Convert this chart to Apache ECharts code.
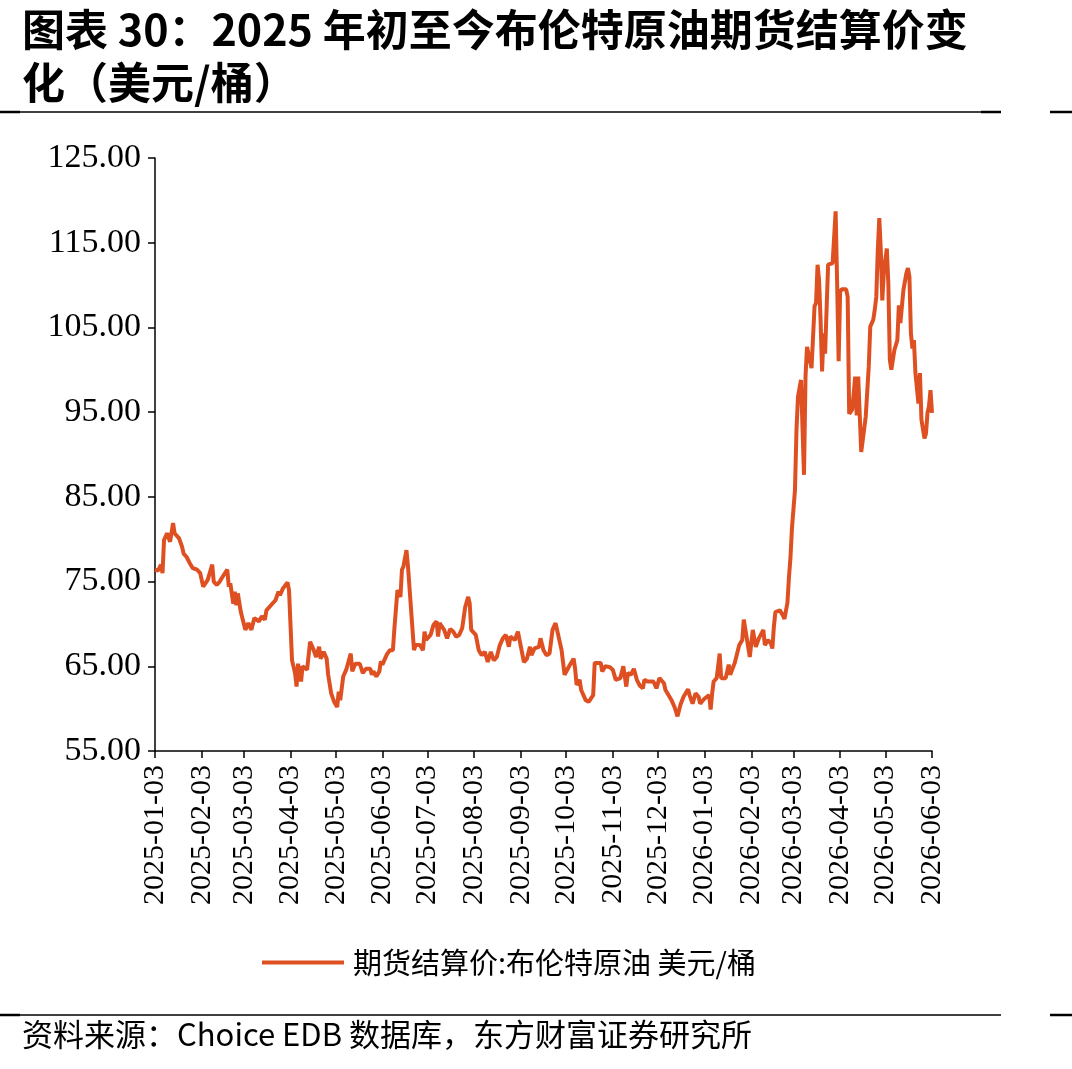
<!DOCTYPE html>
<html>
<head>
<meta charset="utf-8">
<script src="https://cdn.jsdelivr.net/npm/echarts@6/dist/echarts.min.js"></script>
<style>
  html, body { margin: 0; padding: 0; background: #fff; }
  #brentChart { width: 1072px; height: 1069px; }
</style>
</head>
<body>
<div id="brentChart"></div>
<script>
// 期货结算价:布伦特原油（美元/桶），读图估计
const dates2025 = [
  '2025-01-03','2025-01-05','2025-01-06','2025-01-07','2025-01-08','2025-01-09','2025-01-11','2025-01-12','2025-01-13','2025-01-15',
  '2025-01-16','2025-01-19','2025-01-21','2025-01-22','2025-01-24','2025-01-26','2025-01-28','2025-01-31','2025-02-02','2025-02-04',
  '2025-02-05','2025-02-07','2025-02-10','2025-02-11','2025-02-13','2025-02-15','2025-02-17','2025-02-20','2025-02-21','2025-02-22',
  '2025-02-24','2025-02-25','2025-02-26','2025-02-27','2025-03-01','2025-03-04','2025-03-06','2025-03-08','2025-03-10','2025-03-13',
  '2025-03-15','2025-03-17','2025-03-18','2025-03-21','2025-03-24','2025-03-26','2025-03-27','2025-03-29','2025-04-01','2025-04-02',
  '2025-04-04','2025-04-06','2025-04-07','2025-04-08','2025-04-10','2025-04-11','2025-04-14','2025-04-16','2025-04-18','2025-04-20',
  '2025-04-22','2025-04-23','2025-04-25','2025-04-27','2025-04-28','2025-04-30','2025-05-02','2025-05-04','2025-05-05','2025-05-06',
  '2025-05-08','2025-05-10','2025-05-13','2025-05-14','2025-05-16','2025-05-19','2025-05-21','2025-05-23','2025-05-26','2025-05-27',
  '2025-05-28','2025-05-30','2025-06-01','2025-06-02','2025-06-03','2025-06-06','2025-06-08','2025-06-10','2025-06-11','2025-06-12',
  '2025-06-13','2025-06-14','2025-06-15','2025-06-16','2025-06-17','2025-06-19','2025-06-20','2025-06-24','2025-06-25','2025-06-28',
  '2025-06-30','2025-07-01','2025-07-02','2025-07-05','2025-07-07','2025-07-09','2025-07-10','2025-07-11','2025-07-14','2025-07-16',
  '2025-07-18','2025-07-20','2025-07-22','2025-07-24','2025-07-26','2025-07-28','2025-07-30','2025-07-31','2025-08-01','2025-08-04',
  '2025-08-06','2025-08-08','2025-08-10','2025-08-12','2025-08-14','2025-08-16','2025-08-18','2025-08-20','2025-08-22','2025-08-24',
  '2025-08-26','2025-08-27','2025-08-30','2025-09-01','2025-09-05','2025-09-07','2025-09-09','2025-09-10','2025-09-12','2025-09-15',
  '2025-09-16','2025-09-18','2025-09-20','2025-09-22','2025-09-24','2025-09-26','2025-09-27','2025-09-30','2025-10-02','2025-10-05',
  '2025-10-08','2025-10-09','2025-10-10','2025-10-12','2025-10-13','2025-10-16','2025-10-18','2025-10-21','2025-10-22','2025-10-26',
  '2025-10-27','2025-10-29','2025-11-01','2025-11-03','2025-11-05','2025-11-08','2025-11-10','2025-11-12','2025-11-13','2025-11-15',
  '2025-11-17','2025-11-19','2025-11-21','2025-11-23','2025-11-24','2025-11-26','2025-11-30','2025-12-02','2025-12-04','2025-12-07',
  '2025-12-08','2025-12-10','2025-12-12','2025-12-14','2025-12-16','2025-12-18','2025-12-20','2025-12-23','2025-12-24','2025-12-26',
  '2025-12-28','2025-12-30','2025-12-31'
];
const prices2025 = [
  76.4, 76.3, 76.4, 77.0, 76.0, 79.9, 80.7, 80.9, 79.7, 81.9,
  80.7, 80.1, 79.1, 78.3, 77.9, 77.2, 76.6, 76.4, 76.0, 74.4,
  74.6, 75.2, 77.0, 75.0, 74.6, 75.0, 75.6, 76.4, 74.4, 74.8,
  72.4, 73.8, 72.2, 73.6, 71.4, 69.3, 70.1, 69.3, 70.7, 70.3,
  70.9, 70.5, 71.6, 72.2, 72.8, 73.8, 73.4, 74.2, 74.9, 74.0,
  65.7, 64.2, 62.6, 65.3, 63.2, 65.0, 64.6, 67.9, 67.1, 66.1,
  67.3, 65.9, 66.7, 65.9, 64.0, 61.8, 60.8, 60.2, 62.0, 61.0,
  63.8, 64.6, 66.5, 64.4, 65.3, 65.3, 64.2, 64.7, 64.7, 64.0,
  64.4, 63.8, 64.4, 65.6, 65.2, 66.4, 66.9, 66.9, 69.5, 69.7,
  74.0, 74.2, 73.2, 76.4, 76.8, 78.7, 76.8, 66.9, 67.5, 67.5,
  66.9, 69.1, 68.1, 68.7, 69.9, 70.3, 68.5, 70.1, 69.3, 68.3,
  69.4, 69.1, 68.5, 68.7, 69.5, 72.0, 73.2, 72.4, 69.3, 68.7,
  66.9, 66.3, 66.7, 65.5, 66.7, 65.7, 66.1, 67.5, 68.3, 68.7,
  67.3, 68.5, 68.1, 69.1, 65.5, 65.9, 67.3, 66.3, 67.1, 67.3,
  68.3, 66.9, 66.3, 66.5, 69.3, 70.1, 69.3, 66.9, 64.0, 65.0,
  65.9, 64.7, 62.8, 63.4, 62.2, 61.0, 60.8, 61.6, 65.4, 65.4,
  64.4, 65.0, 64.9, 64.6, 63.4, 63.6, 65.0, 62.6, 64.2, 64.0,
  64.7, 63.4, 62.7, 62.4, 63.4, 63.2, 63.2, 62.4, 63.6, 63.0,
  62.2, 61.6, 61.0, 60.2, 59.1, 60.5, 61.4, 62.3, 61.6, 60.6,
  61.8, 61.4, 60.6
];
const dates2026 = [
  '2026-01-03','2026-01-06','2026-01-07','2026-01-08','2026-01-09','2026-01-11','2026-01-13','2026-01-14','2026-01-17','2026-01-19',
  '2026-01-20','2026-01-23','2026-01-24','2026-01-26','2026-01-28','2026-01-29','2026-01-30','2026-02-02','2026-02-04','2026-02-06',
  '2026-02-08','2026-02-11','2026-02-12','2026-02-14','2026-02-16','2026-02-17','2026-02-18','2026-02-19','2026-02-22','2026-02-24',
  '2026-02-25','2026-02-27','2026-02-28','2026-03-01','2026-03-02','2026-03-03','2026-03-04','2026-03-05','2026-03-06','2026-03-08',
  '2026-03-09','2026-03-10','2026-03-11','2026-03-12','2026-03-13','2026-03-15','2026-03-16','2026-03-17','2026-03-18','2026-03-19',
  '2026-03-20','2026-03-21','2026-03-22','2026-03-23','2026-03-24','2026-03-25','2026-03-26','2026-03-29','2026-03-30','2026-03-31',
  '2026-04-01','2026-04-02','2026-04-03','2026-04-04','2026-04-07','2026-04-08','2026-04-09','2026-04-11','2026-04-12','2026-04-13',
  '2026-04-14','2026-04-15','2026-04-16','2026-04-17','2026-04-20','2026-04-22','2026-04-23','2026-04-25','2026-04-26','2026-04-27',
  '2026-04-28','2026-04-29','2026-04-30','2026-05-01','2026-05-02','2026-05-03','2026-05-04','2026-05-05','2026-05-06','2026-05-07',
  '2026-05-09','2026-05-11','2026-05-12','2026-05-13','2026-05-15','2026-05-17','2026-05-18','2026-05-19','2026-05-20','2026-05-21',
  '2026-05-22','2026-05-23','2026-05-25','2026-05-26','2026-05-27','2026-05-29','2026-05-30','2026-05-31','2026-06-01','2026-06-02',
  '2026-06-03'
];
const prices2026 = [
  61.2, 61.6, 59.9, 61.8, 63.2, 63.6, 66.5, 63.6, 63.6, 65.2,
  64.0, 65.4, 65.4, 67.5, 68.1, 70.5, 70.5, 66.1, 69.3, 67.3,
  68.3, 69.3, 67.5, 68.1, 67.7, 67.1, 69.7, 71.4, 71.6, 71.0,
  70.6, 72.5, 75.5, 77.8, 81.3, 81.5, 85.8, 92.9, 96.8, 98.8,
  99.0, 87.6, 99.2, 102.7, 102.9, 100.2, 100.4, 107.5, 107.9, 112.4,
  110.6, 105.9, 99.8, 104.3, 101.9, 102.1, 112.4, 112.6, 112.7, 118.7,
  110.2, 101.0, 109.2, 109.5, 109.5, 108.6, 94.8, 95.3, 97.2, 99.2,
  94.6, 99.2, 99.0, 90.3, 94.5, 100.4, 105.1, 105.9, 107.1, 108.6,
  114.1, 117.9, 114.1, 108.2, 111.4, 113.0, 114.3, 110.2, 101.2, 100.0,
  102.3, 103.5, 107.6, 105.5, 109.4, 111.4, 112.0, 111.0, 104.3, 102.5,
  103.5, 99.6, 96.0, 99.6, 94.1, 91.9, 92.5, 94.9, 95.7, 97.6,
  94.9
];
// x 轴刻度：每月 3 日
const tickDates = [
  '2025-01-03','2025-02-03','2025-03-03','2025-04-03','2025-05-03','2025-06-03',
  '2025-07-03','2025-08-03','2025-09-03','2025-10-03','2025-11-03','2025-12-03',
  '2026-01-03','2026-02-03','2026-03-03','2026-04-03','2026-05-03','2026-06-03'
];
const seriesName = '期货结算价:布伦特原油 美元/桶';
const lineColor = '#DE5021';

const toTime = d => echarts.number.parseDate(d).getTime();
const allDates = dates2025.concat(dates2026);
const allPrices = prices2025.concat(prices2026);
const seriesData = allDates.map((d, i) => [toTime(d), allPrices[i]]);
const tickValues = tickDates.map(toTime);

const myChart = echarts.init(document.getElementById('brentChart'));
const serif = 'Liberation Serif, Times New Roman, serif';
const cjk = 'Noto Sans CJK SC, sans-serif';

const option = {
  backgroundColor: '#fff',
  animation: false,
  title: [
    {
      text: '图表 30：2025 年初至今布伦特原油期货结算价变\n化（美元/桶）',
      left: 22,
      top: 3,
      padding: 0,
      textStyle: {
        fontFamily: cjk,
        fontSize: 43,
        fontWeight: 'bold',
        color: '#000',
        lineHeight: 53
      }
    },
    {
      text: '资料来源：Choice EDB 数据库，东方财富证券研究所',
      left: 22,
      top: 1019,
      padding: 0,
      textStyle: {
        fontFamily: cjk,
        fontSize: 31,
        fontWeight: 'normal',
        color: '#000'
      }
    }
  ],
  graphic: [
    { type: 'line', shape: { x1: 0, y1: 112, x2: 1001, y2: 112 }, style: { stroke: '#000', lineWidth: 1.5 } },
    { type: 'line', shape: { x1: 0, y1: 112, x2: 20, y2: 112 }, style: { stroke: '#000', lineWidth: 2.5 } },
    { type: 'line', shape: { x1: 981, y1: 112, x2: 1001, y2: 112 }, style: { stroke: '#000', lineWidth: 2.5 } },
    { type: 'line', shape: { x1: 1050, y1: 112, x2: 1072, y2: 112 }, style: { stroke: '#000', lineWidth: 2.5 } },
    { type: 'line', shape: { x1: 0, y1: 1015, x2: 1001, y2: 1015 }, style: { stroke: '#000', lineWidth: 1.5 } },
    { type: 'line', shape: { x1: 0, y1: 1015, x2: 20, y2: 1015 }, style: { stroke: '#000', lineWidth: 2.5 } },
    { type: 'line', shape: { x1: 1050, y1: 1015, x2: 1072, y2: 1015 }, style: { stroke: '#000', lineWidth: 2.5 } }
  ],
  legend: {
    left: 257,
    top: 943,
    icon: 'rect',
    itemWidth: 82,
    itemHeight: 4,
    textStyle: {
      fontFamily: cjk,
      fontSize: 29,
      color: '#000',
      padding: [0, 0, 0, 4]
    },
    data: [seriesName]
  },
  grid: {
    left: 155,
    right: 140,
    top: 158,
    bottom: 318
  },
  xAxis: {
    type: 'value',
    min: tickValues[0],
    max: tickValues[tickValues.length - 1],
    splitLine: { show: false },
    axisLine: { lineStyle: { color: '#000', width: 1.5 } },
    axisTick: {
      customValues: tickValues,
      length: 7,
      lineStyle: { color: '#000', width: 1.5 }
    },
    axisLabel: {
      customValues: tickValues,
      rotate: 90,
      margin: 14,
      fontFamily: serif,
      fontSize: 30,
      color: '#000',
      formatter: function (value) {
        return echarts.time.format(value, '{yyyy}-{MM}-{dd}', false);
      }
    }
  },
  yAxis: {
    type: 'value',
    min: 55,
    max: 125,
    interval: 10,
    splitLine: { show: false },
    axisLine: { show: true, lineStyle: { color: '#000', width: 1.5 } },
    axisTick: { show: true, length: 7, lineStyle: { color: '#000', width: 1.5 } },
    axisLabel: {
      margin: 14,
      fontFamily: serif,
      fontSize: 34,
      color: '#000',
      formatter: v => v.toFixed(2)
    }
  },
  series: [
    {
      name: seriesName,
      type: 'line',
      data: seriesData,
      showSymbol: false,
      color: lineColor,
      lineStyle: { color: lineColor, width: 4 }
    }
  ]
};
myChart.setOption(option);

window.addEventListener('resize', () => {
  myChart.resize();
});
</script>
</body>
</html>
